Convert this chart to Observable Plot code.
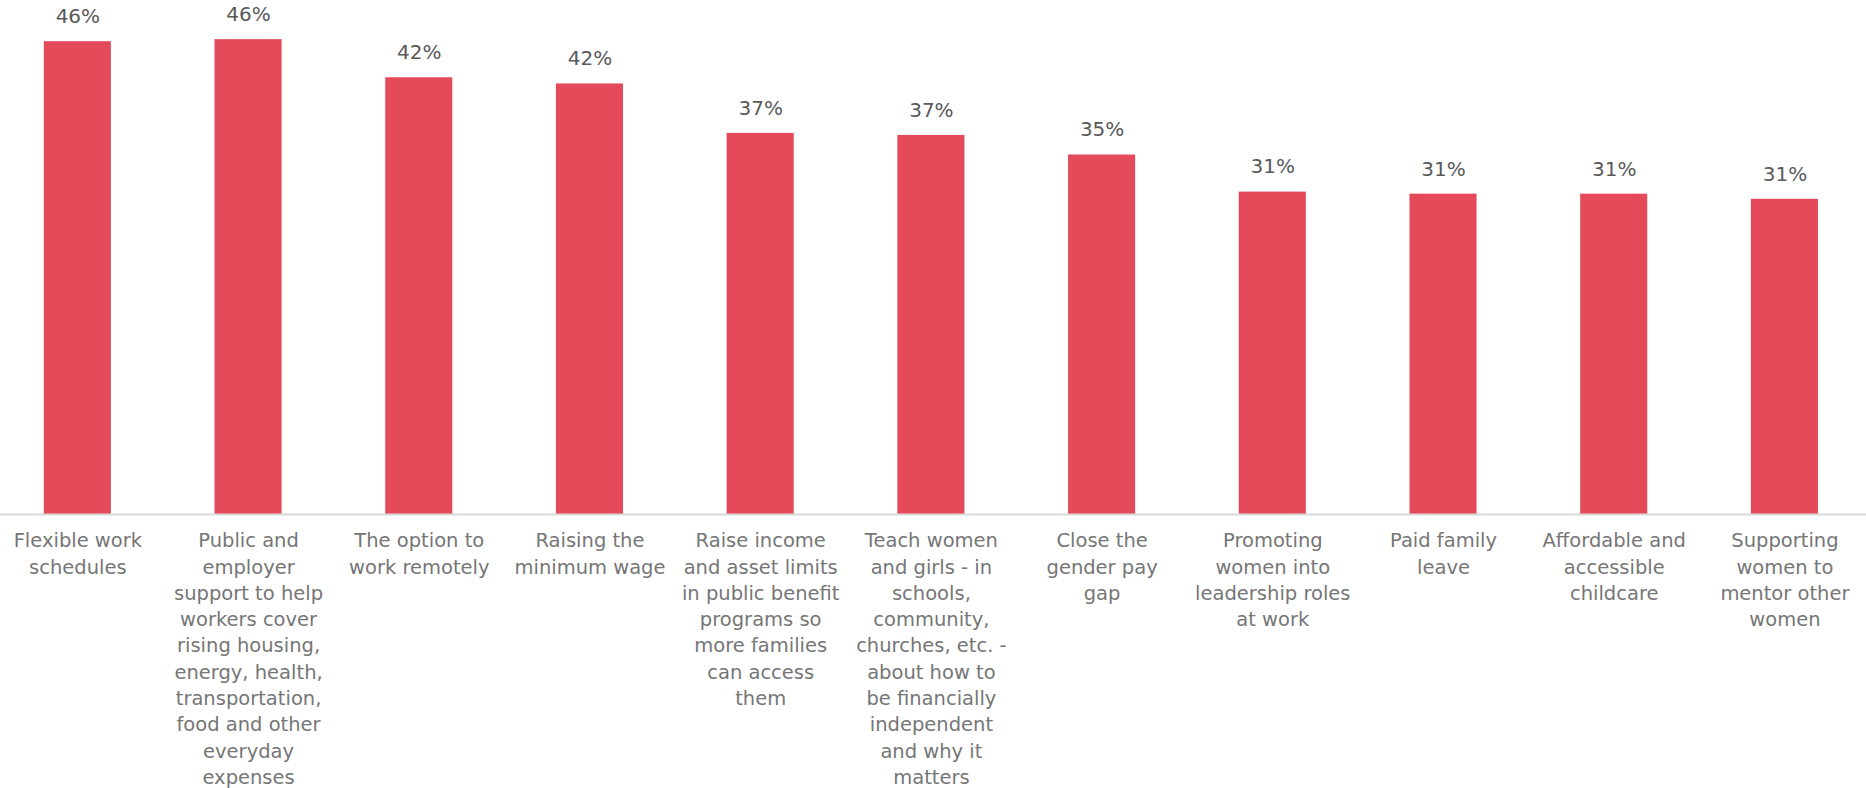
<!DOCTYPE html>
<html>
<head>
<meta charset="utf-8">
<script src="https://cdn.jsdelivr.net/npm/d3@7"></script>
<script src="https://cdn.jsdelivr.net/npm/@observablehq/plot@0.6"></script>
<style>
  html, body { margin: 0; padding: 0; background: #fff; }
  #chart svg { display: block; }
</style>
</head>
<body>
<div id="chart"></div>
<script>
const categories = [
  "Flexible work\nschedules",
  "Public and\nemployer\nsupport to help\nworkers cover\nrising housing,\nenergy, health,\ntransportation,\nfood and other\neveryday\nexpenses",
  "The option to\nwork remotely",
  "Raising the\nminimum wage",
  "Raise income\nand asset limits\nin public benefit\nprograms so\nmore families\ncan access\nthem",
  "Teach women\nand girls - in\nschools,\ncommunity,\nchurches, etc. -\nabout how to\nbe financially\nindependent\nand why it\nmatters",
  "Close the\ngender pay\ngap",
  "Promoting\nwomen into\nleadership roles\nat work",
  "Paid family\nleave",
  "Affordable and\naccessible\nchildcare",
  "Supporting\nwomen to\nmentor other\nwomen"
];
const values = [45.9, 46.1, 42.4, 41.8, 37.0, 36.8, 34.9, 31.3, 31.1, 31.1, 30.6];
const valueLabels = ["46%", "46%", "42%", "42%", "37%", "37%", "35%", "31%", "31%", "31%", "31%"];

const data = categories.map((c, i) => ({category: c, value: values[i], label: valueLabels[i]}));

const chart = Plot.plot({
  width: 1866,
  height: 788,
  marginTop: 0,
  marginBottom: 274,
  marginLeft: 0,
  marginRight: 0,
  style: {fontFamily: "DejaVu Sans", background: "#fff"},
  x: {domain: categories, paddingInner: 0.607, paddingOuter: 0.269, align: 0.477, round: false, axis: null},
  y: {domain: [0, 49.9], axis: null},
  marks: [
    Plot.barY(data, {x: "category", y: "value", fill: "#e44a5a"}),
    Plot.ruleY([0], {stroke: "#d9d9d9", strokeWidth: 2}),
    Plot.text(data, {x: "category", y: "value", text: "label", dy: -25, fill: "#595959", fontSize: 20, fontFamily: "DejaVu Sans"}),
    Plot.text(data, {x: "category", y: () => 0, text: "category", lineAnchor: "top", dy: 14, lineHeight: 1.35, fill: "#767676", fontSize: 19.5, fontFamily: "DejaVu Sans"})
  ]
});
document.getElementById("chart").appendChild(chart);
</script>
</body>
</html>
